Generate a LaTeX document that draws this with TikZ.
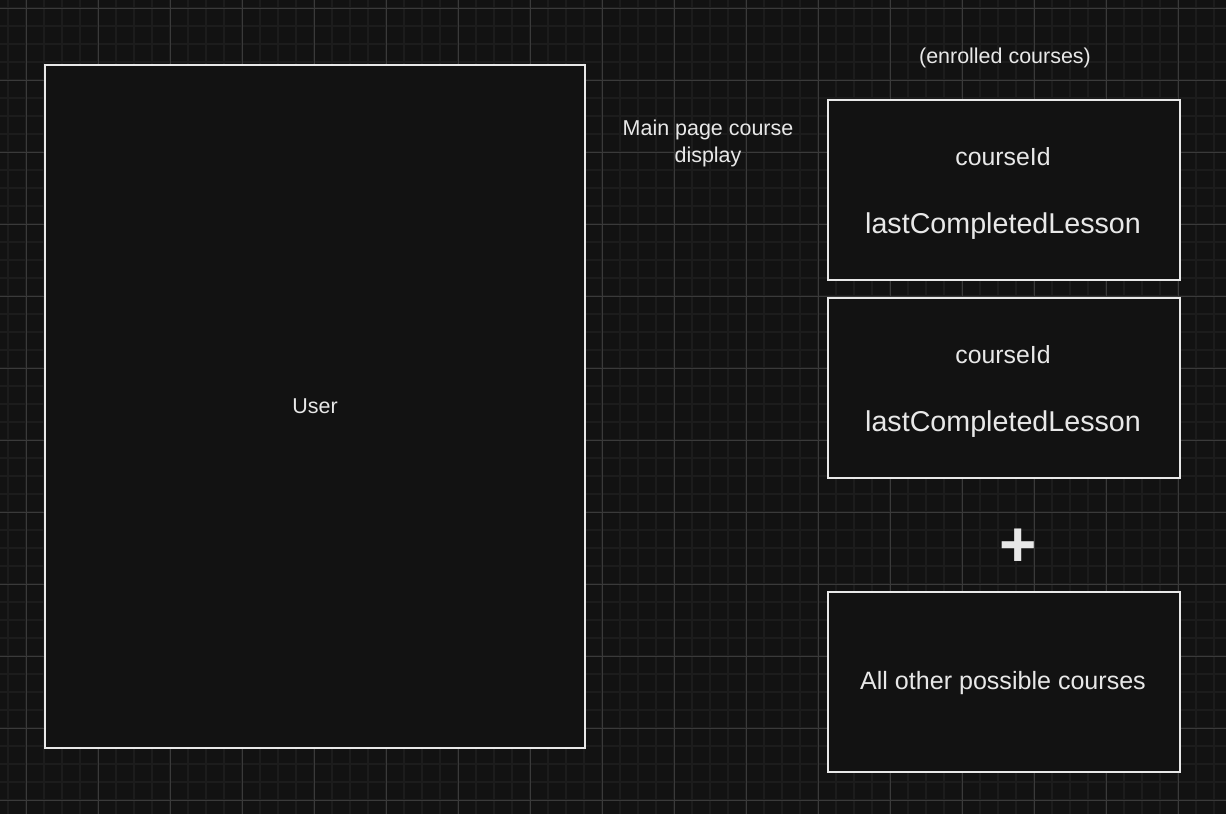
\documentclass[tikz,border=0pt]{standalone}
\usepackage{fontspec}
\setmainfont{Liberation Sans}
\definecolor{bgc}{HTML}{121212}
\definecolor{minorc}{HTML}{1C1C1C}
\definecolor{majorc}{HTML}{3A3A3A}
\definecolor{inkc}{HTML}{E8E8E8}
\tikzset{
  box/.style={draw=inkc, line width=1.5pt, fill=bgc, inner sep=0pt},
  lbl/.style={text=inkc, inner sep=0pt, anchor=base},
  small/.style={lbl, font=\fontsize{16.1}{20.25}\selectfont},
  idtxt/.style={lbl, font=\fontsize{18.6}{22}\selectfont},
  lessontxt/.style={lbl, font=\fontsize{21.5}{26}\selectfont},
  othertxt/.style={lbl, font=\fontsize{18.8}{22}\selectfont},
}
\begin{document}
\begin{tikzpicture}[x=0.75pt,y=-0.75pt]
\useasboundingbox (0,0) rectangle (1226,814);
\fill[bgc] (0,0) rectangle (1226,814);
% grid
\foreach \i in {8,26,...,1226} \draw[minorc, line width=1.5pt] (\i,0) -- (\i,814);
\foreach \j in {8,26,...,814} \draw[minorc, line width=1.5pt] (0,\j) -- (1226,\j);
\foreach \i in {26,98,...,1226} \draw[majorc, line width=0.75pt] (\i,0) -- (\i,814);
\foreach \j in {8,80,...,814} \draw[majorc, line width=0.75pt] (0,\j) -- (1226,\j);
% boxes
\node[box, minimum width=540*0.75pt, minimum height=683*0.75pt] (user) at (315,406.5) {};
\node[box, minimum width=352*0.75pt, minimum height=180*0.75pt] (c1) at (1004,190) {};
\node[box, minimum width=352*0.75pt, minimum height=180*0.75pt] (c2) at (1004,388) {};
\node[box, minimum width=352*0.75pt, minimum height=180*0.75pt] (other) at (1004,682) {};
% texts
\node[small] (usertxt) at (315,413) {User};
\node[small] (enrolled) at (1005,63) {(enrolled courses)};
\node[small, align=center, anchor=base] (mainpage) at (708,162) {Main page course\\display};
\node[idtxt] (c1id) at (1003,165) {courseId};
\node[lessontxt] (c1lesson) at (1003,233) {lastCompletedLesson};
\node[idtxt] (c2id) at (1003,363) {courseId};
\node[lessontxt] (c2lesson) at (1003,431) {lastCompletedLesson};
\node[othertxt] (othertxt) at (1003,689.3) {All other possible courses};
\node[lbl, font=\fontsize{48}{54}\bfseries\selectfont] (plus) at (1018,566) {+};
\end{tikzpicture}
\end{document}
